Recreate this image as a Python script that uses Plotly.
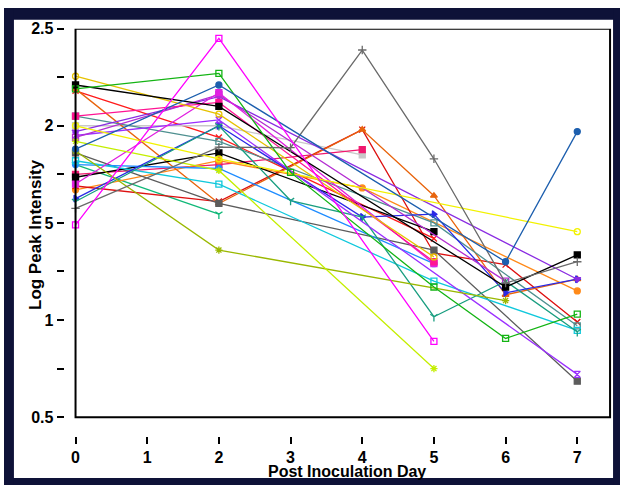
import plotly.graph_objects as go

# ---------------- data ----------------
days = [0, 2, 3, 4, 5, 6, 7]
day_ticks = [0, 1, 2, 3, 4, 5, 6, 7]
y_ticks = [0.5, 0.75, 1, 1.25, 1.5, 1.75, 2, 2.25, 2.5]
y_tick_text = ["0.5", "", "1", "", "1.5", "", "2", "", "2.5"]

N = None
s_redx      = [2.18, 1.94, N, N, 1.42, N, N]
s_seagreen  = [1.80, 1.545, N, N, N, N, N]
s_lightgrey = [2.00, 2.00, N, 1.85, N, N, N]
s_pink      = [1.75, 1.80, N, 1.877, N, N, N]
s_orange2   = [1.67, 1.82, N, 1.68, N, N, 1.15]
s_red       = [1.69, 1.61, N, 1.98, 1.345, 1.285, 0.99]
s_orange    = [2.19, 1.60, N, 1.98, 1.64, 1.13, 1.21]
s_darkgrey  = [1.86, 1.60, N, N, 1.36, N, 0.685]
s_slate     = [2.05, 1.92, N, N, 1.50, N, 0.97]
s_black2    = [1.735, 1.86, N, N, 1.455, N, N]
s_dodger    = [1.80, 1.78, N, N, 1.29, N, N]
s_cyan      = [1.82, 1.70, N, N, 1.20, N, 0.947]
s_indigo    = [1.625, 2.00, N, 1.53, 1.545, 1.14, 1.21]
s_teal      = [1.61, 2.00, 1.615, 1.53, 1.017, 1.20, 0.94]
s_purplez   = [1.95, 2.03, N, N, N, N, 0.72]
s_purple2   = [1.97, 2.15, N, N, N, N, 1.21]
s_violet    = [1.94, 2.16, N, N, N, 1.20, N]
s_magenta2  = [1.70, 2.17, N, N, 1.29, N, N]
s_hotpink   = [2.05, 2.12, N, N, 1.30, N, N]
s_gold      = [2.255, 2.06, N, N, 1.325, N, N]
s_yellow    = [2.00, 1.83, N, N, N, N, 1.455]
s_black1    = [2.21, 2.10, N, N, N, 1.17, 1.335]
s_olive     = [1.87, 1.36, N, N, N, 1.10, N]
s_lime      = [1.92, 1.77, N, N, 0.75, N, N]
s_green     = [2.19, 2.27, 1.76, N, 1.17, 0.905, 1.03]
s_greyplus  = [1.575, 1.89, 1.887, 2.39, 1.83, 1.19, 1.30]
s_bluedot   = [1.88, 2.21, N, N, N, 1.30, 1.97]
s_magenta   = [1.49, 2.45, N, N, 0.89, N, N]

# ---------------- styles ----------------
FONT = "Liberation Sans, Arial, sans-serif"
NAVY = "#0e1238"
series = [
    (s_redx, "#ff1a1a", "x-thin-open"),
    (s_seagreen, "#10b878", "y-down-open"),
    (s_lightgrey, "#c8c8c8", "square"),
    (s_pink, "#f0186e", "square"),
    (s_orange2, "#ff8a1a", "circle"),
    (s_red, "#dd1010", "x-thin-open"),
    (s_orange, "#e8640c", "triangle-up"),
    (s_darkgrey, "#5c5c5c", "square"),
    (s_slate, "#4f9090", "square-open"),
    (s_black2, "#000000", "square"),
    (s_dodger, "#1e8cff", "circle"),
    (s_cyan, "#10c8dc", "square-open"),
    (s_indigo, "#2a2ae6", "triangle-right"),
    (s_teal, "#1a9e80", "y-down-open"),
    (s_purplez, "#9b30ff", "hourglass-open"),
    (s_purple2, "#8a2be2", "triangle-down"),
    (s_violet, "#b42ed2", "square-open"),
    (s_magenta2, "#e020e0", "square"),
    (s_hotpink, "#ff1493", "square"),
    (s_gold, "#e6c200", "circle-open"),
    (s_yellow, "#f2f200", "circle-open"),
    (s_black1, "#000000", "square"),
    (s_olive, "#9ab800", "asterisk-open"),
    (s_lime, "#c4ee00", "asterisk-open"),
    (s_green, "#14b414", "square-open"),
    (s_greyplus, "#6a6a6a", "cross-thin-open"),
    (s_bluedot, "#1d5fae", "circle"),
    (s_magenta, "#ff00ff", "square-open"),
]

fig = go.Figure()
for vals, col, sym in series:
    fig.add_trace(go.Scatter(
        x=days, y=vals, mode="lines+markers", connectgaps=True,
        line=dict(color=col, width=1.3),
        marker=dict(symbol=sym, size=6, color=col, line=dict(color=col, width=1.3)),
        cliponaxis=False, showlegend=False, hoverinfo="skip",
    ))

W, H = 620, 485
xl, xr, yt, yb = 72, 610, 21, 416      # plot box in pixels
x_axis_px = 435                         # detached x tick row
ppu = (yb - yt) / 2.0                   # pixels per y unit
xdom = [xl / W, xr / W]
ydom = [(H - x_axis_px) / H, (H - yt) / H]
xrange = [0, (xr - xl) / ((577 - 72) / 7)]
yrange = [0.5 - (x_axis_px - yb) / ppu, 2.5]
tick_mark_y = 2.5 - (x_axis_px + 3.5 - yt) / ppu

# detached x tick marks (one per day tick, placed via the axis scales)
fig.add_trace(go.Scatter(
    x=day_ticks, y=[tick_mark_y] * len(day_ticks), mode="markers",
    marker=dict(symbol="line-ns-open", size=7, color="black",
                line=dict(color="black", width=2)),
    cliponaxis=False, showlegend=False, hoverinfo="skip",
))

tickfont = dict(family=FONT, size=16, color="black", weight="bold")


def band(x0, x1, y0, y1):
    return dict(type="rect", xref="paper", yref="paper", x0=x0 / W, x1=x1 / W,
                y0=(H - y1) / H, y1=(H - y0) / H, fillcolor=NAVY, line=dict(width=0),
                layer="above")


fig.update_layout(
    width=W, height=H, margin=dict(l=0, r=0, t=0, b=0),
    paper_bgcolor="white", plot_bgcolor="white",
    xaxis=dict(domain=xdom, range=xrange, tickmode="array", tickvals=day_ticks,
               ticks="outside", ticklen=7, tickwidth=2, tickcolor="black",
               showline=False, showgrid=False, zeroline=False, tickfont=tickfont),
    yaxis=dict(domain=ydom, range=yrange, anchor="free", position=60 / W,
               tickmode="array", tickvals=y_ticks, ticktext=y_tick_text,
               ticks="outside", ticklen=7, tickwidth=2, tickcolor="black",
               showline=False, showgrid=False, zeroline=False, tickfont=tickfont),
    shapes=[
        band(0, W, 0, 12), band(0, W, 478, H), band(0, 10, 0, H), band(613, W, 0, H),
        dict(type="rect", xref="x domain", yref="y", x0=0, x1=1, y0=0.5, y1=2.5,
             line=dict(color="black", width=2), fillcolor="rgba(0,0,0,0)", layer="above"),
    ],
    annotations=[
        dict(text="Log Peak Intensity", xref="paper", yref="paper", x=31 / W, y=(H - 230) / H,
             xanchor="center", yanchor="middle", textangle=-90, showarrow=False,
             bgcolor="white", borderpad=0,
             font=dict(family=FONT, size=17, color="black", weight="bold")),
        dict(text="Post Inoculation Day", xref="paper", yref="paper", x=345 / W,
             y=(H - 471.5) / H, xanchor="center", yanchor="middle", showarrow=False,
             borderpad=0, font=dict(family=FONT, size=16, color="black", weight="bold")),
    ],
)

fig.write_html("out.html")
